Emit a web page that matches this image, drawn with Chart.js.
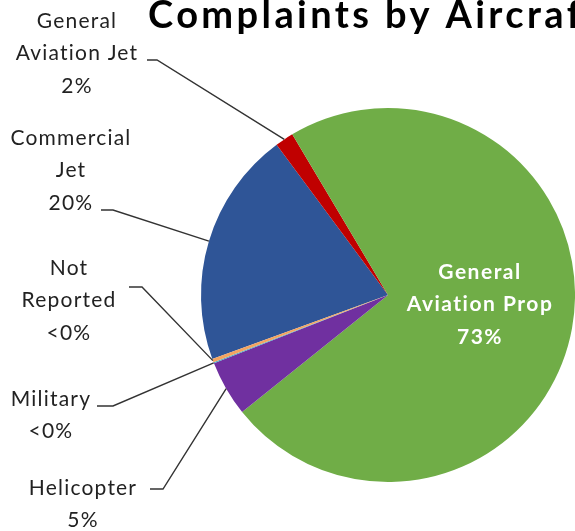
<!DOCTYPE html>
<html>
<head>
<meta charset="utf-8">
<script src="https://cdn.jsdelivr.net/npm/chart.js@4"></script>
<style>
  html, body { margin: 0; padding: 0; background: #fff; overflow: hidden; }
  canvas { display: block; }
</style>
</head>
<body>
<canvas id="pieChart" width="575" height="531"></canvas>
<script>
// 데이터
const categories = ['Commercial Jet', 'General Aviation Jet', 'General Aviation Prop', 'Helicopter', 'Military', 'Not Reported'];
const shares = [20.4, 1.6, 72.8, 4.8, 0.1, 0.3];
const percentLabels = ['20%', '2%', '73%', '5%', '<0%', '<0%'];
const labelLines = [['Commercial', 'Jet'], ['General', 'Aviation Jet'], ['General', 'Aviation Prop'], ['Helicopter'], ['Military'], ['Not', 'Reported']];
const sliceColors = ['#2F5597', '#C00000', '#70AD47', '#7030A0', '#4BACC6', '#F4A460'];
const chartTitle = 'Complaints by Aircraft Type';

// 라벨 배치 (Excel 스타일 수동 위치)
const labelLayout = [
  { cx: 71, y: 138, leader: [101, 210, 113] },
  { cx: 77, y: 21, leader: [147, 60, 157] },
  { cx: 480, y: 272, inside: true },
  { cx: 83, y: 488, leader: [150, 489, 163] },
  { cx: 51, y: 399, leader: [97, 406, 113] },
  { cx: 69, y: 268, leader: [129, 287, 142] }
];
const lineGap = 32.5;

const labelPlugin = {
  id: 'excelLabels',
  afterDraw(chart) {
    const ctx = chart.ctx;
    const arcs = chart.getDatasetMeta(0).data;
    ctx.save();

    // 제목
    ctx.font = 'bold 38px Lato';
    ctx.letterSpacing = '3.4px';
    ctx.fillStyle = '#000';
    ctx.textAlign = 'left';
    ctx.textBaseline = 'alphabetic';
    ctx.fillText(chartTitle, 148, 28);

    labelLayout.forEach((lay, i) => {
      const lines = labelLines[i].concat([percentLabels[i]]);
      ctx.textAlign = 'center';
      ctx.textBaseline = 'middle';
      if (lay.inside) {
        ctx.font = 'bold 21px Lato';
        ctx.letterSpacing = '1.5px';
        ctx.fillStyle = '#fff';
      } else {
        ctx.font = '21px Lato';
        ctx.letterSpacing = '1.2px';
        ctx.fillStyle = '#222';
      }
      lines.forEach((t, k) => ctx.fillText(t, lay.cx, lay.y + k * lineGap));

      if (lay.leader) {
        const p = arcs[i].getProps(['x', 'y', 'startAngle', 'endAngle', 'outerRadius'], true);
        const mid = (p.startAngle + p.endAngle) / 2;
        const ex = p.x + Math.cos(mid) * p.outerRadius;
        const ey = p.y + Math.sin(mid) * p.outerRadius;
        ctx.strokeStyle = '#333';
        ctx.lineWidth = 1.4;
        ctx.beginPath();
        ctx.moveTo(lay.leader[0], lay.leader[1]);
        ctx.lineTo(lay.leader[2], lay.leader[1]);
        ctx.lineTo(ex, ey);
        ctx.stroke();
      }
    });
    ctx.restore();
  }
};

new Chart(document.getElementById('pieChart').getContext('2d'), {
  type: 'pie',
  data: {
    labels: categories,
    datasets: [{
      data: shares,
      backgroundColor: sliceColors,
      borderWidth: 0
    }]
  },
  options: {
    responsive: false,
    animation: false,
    rotation: 250,
    layout: { padding: { left: 201, right: 0, top: 108, bottom: 49 } },
    plugins: {
      legend: { display: false },
      tooltip: { enabled: false },
      title: { display: false }
    }
  },
  plugins: [labelPlugin]
});
</script>
</body>
</html>
